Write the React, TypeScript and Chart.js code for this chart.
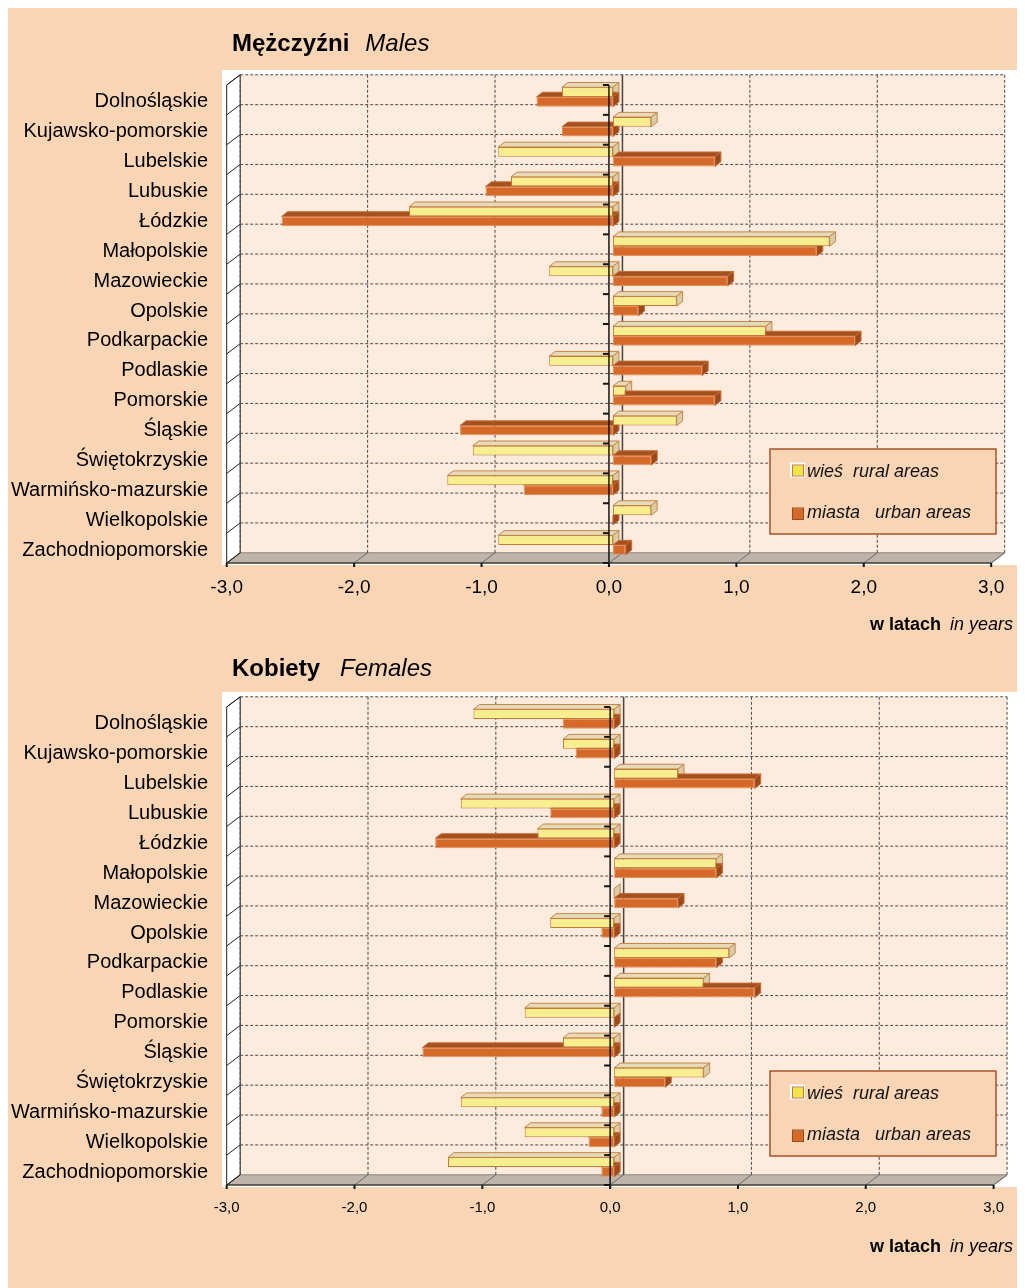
import React, { useEffect, useRef } from 'react';
import { Chart, registerables } from 'chart.js';

Chart.register(...registerables);

// ---------- data ----------
const regions = [
  'Dolnośląskie',
  'Kujawsko-pomorskie',
  'Lubelskie',
  'Lubuskie',
  'Łódzkie',
  'Małopolskie',
  'Mazowieckie',
  'Opolskie',
  'Podkarpackie',
  'Podlaskie',
  'Pomorskie',
  'Śląskie',
  'Świętokrzyskie',
  'Warmińsko-mazurskie',
  'Wielkopolskie',
  'Zachodniopomorskie',
];

const malesRural = [-0.4, 0.3, -0.9, -0.8, -1.6, 1.7, -0.5, 0.5, 1.2, -0.5, 0.1, 0.5, -1.1, -1.3, 0.3, -0.9];
const malesUrban = [-0.6, -0.4, 0.8, -1.0, -2.6, 1.6, 0.9, 0.2, 1.9, 0.7, 0.8, -1.2, 0.3, -0.7, 0.0, 0.1];

const femalesRural = [-1.1, -0.4, 0.5, -1.2, -0.6, 0.8, 0.0, -0.5, 0.9, 0.7, -0.7, -0.4, 0.7, -1.2, -0.7, -1.3];
const femalesUrban = [-0.4, -0.3, 1.1, -0.5, -1.4, 0.8, 0.5, -0.1, 0.8, 1.1, 0.0, -1.5, 0.4, -0.1, -0.2, -0.1];

const xTickValues = [-3, -2, -1, 0, 1, 2, 3];
const xTickLabels = ['-3,0', '-2,0', '-1,0', '0,0', '1,0', '2,0', '3,0'];

const seriesLabels = ['wieś  rural areas', 'miasta   urban areas'];
const maleTitle = ['Mężczyźni', 'Males'];
const femaleTitle = ['Kobiety', 'Females'];
const unitLabel = ['w latach', 'in years'];

// ---------- styles ----------
const FONT = '"Liberation Sans", Arial, sans-serif';
const PAGE_BG = '#F8D5B5';
const WALL = '#FDEBDD';
const FLOOR = '#BEB4AA';
const GRID = '#4a4a4a';
const AXIS = '#151515';

const AREA_LEFT = 222.7;
const AREA_RIGHT = 990.7;
const AREA_TOP = 74;
const AREA_BOTTOM = 552;
const CANVAS_W = 1017;

const BACK = { dx: 9.5, dy: -7.2 };
const FRONT = { dx: -4, dy: 3 };
const BAR_DEPTH = { dx: 6, dy: -4.7 };

const FACE_STYLES = [
  { front: '#F7EE8F', border: '#C47A35', top: '#E5DBB8', side: '#D8CDA6', edge: '#C8844A' },
  { front: '#D4692A', border: '#E5935C', top: '#A4511F', side: '#9A4A1B', edge: '#C86A35' },
];

function poly(ctx: CanvasRenderingContext2D, pts: number[][], fill?: string, stroke?: string, lw = 1) {
  ctx.beginPath();
  ctx.moveTo(pts[0][0], pts[0][1]);
  for (let i = 1; i < pts.length; i++) ctx.lineTo(pts[i][0], pts[i][1]);
  ctx.closePath();
  if (fill) {
    ctx.fillStyle = fill;
    ctx.fill();
  }
  if (stroke) {
    ctx.strokeStyle = stroke;
    ctx.lineWidth = lw;
    ctx.stroke();
  }
}

function line(ctx: CanvasRenderingContext2D, x1: number, y1: number, x2: number, y2: number, color: string, lw = 1, dash: number[] = []) {
  ctx.beginPath();
  ctx.setLineDash(dash);
  ctx.moveTo(x1, y1);
  ctx.lineTo(x2, y2);
  ctx.strokeStyle = color;
  ctx.lineWidth = lw;
  ctx.stroke();
  ctx.setLineDash([]);
}

type PanelProps = {
  top: number;
  height: number;
  title: string[];
  rural: number[];
  urban: number[];
  tickSize: number;
  tickPad: number;
  titleBaseline: number;
  titleGap: number;
};

function makePlugin(p: PanelProps) {
  return {
    id: 'threeD',
    beforeDraw(chart: any) {
      const ctx: CanvasRenderingContext2D = chart.ctx;
      const xs = chart.scales.x;
      const { top, bottom } = chart.chartArea;
      const X = (v: number) => xs.getPixelForValue(v);
      const n = chart.data.labels.length;
      const step = (bottom - top) / n;
      ctx.save();
      // white panel
      ctx.fillStyle = '#FFFFFF';
      ctx.fillRect(214, 62, 795, 495);

      const xmin = xTickValues[0];
      const xmax = xTickValues[xTickValues.length - 1];
      // back wall
      ctx.fillStyle = WALL;
      ctx.fillRect(X(xmin) + BACK.dx, top + BACK.dy, X(xmax) - X(xmin), bottom - top);

      // floor
      poly(
        ctx,
        [
          [X(xmin) + FRONT.dx, bottom + FRONT.dy],
          [X(xmax) + FRONT.dx, bottom + FRONT.dy],
          [X(xmax) + BACK.dx, bottom + BACK.dy],
          [X(xmin) + BACK.dx, bottom + BACK.dy],
        ],
        FLOOR,
        '#8a8580',
        1
      );
      // floor lines
      xTickValues.forEach((v) => {
        line(ctx, X(v) + FRONT.dx, bottom + FRONT.dy, X(v) + BACK.dx, bottom + BACK.dy, '#6e6a66', 1);
      });

      // left wall
      poly(
        ctx,
        [
          [X(xmin) + FRONT.dx, top + FRONT.dy],
          [X(xmin) + BACK.dx, top + BACK.dy],
          [X(xmin) + BACK.dx, bottom + BACK.dy],
          [X(xmin) + FRONT.dx, bottom + FRONT.dy],
        ],
        '#FFFFFF',
        '#222222',
        1
      );
      for (let i = 0; i <= n; i++) {
        const yb = top + i * step;
        line(ctx, X(xmin) + FRONT.dx, yb + FRONT.dy, X(xmin) + BACK.dx, yb + BACK.dy, '#222222', 1);
      }

      // horizontal dashed grid on back wall
      for (let i = 0; i < n; i++) {
        const yb = top + i * step + BACK.dy;
        line(ctx, X(xmin) + BACK.dx, yb, X(xmax) + BACK.dx, yb, GRID, 1, [3, 2]);
      }
      // vertical dashed grid
      xTickValues.forEach((v) => {
        if (v === 0) return;
        line(ctx, X(v) + BACK.dx, top + BACK.dy, X(v) + BACK.dx, bottom + BACK.dy, GRID, 1, [3, 2]);
      });
      // zero line on back wall
      line(ctx, X(0) + BACK.dx, top + BACK.dy, X(0) + BACK.dx, bottom + BACK.dy, '#444444', 1.5);
      ctx.restore();
    },
    beforeDatasetsDraw(chart: any) {
      const ctx: CanvasRenderingContext2D = chart.ctx;
      ctx.save();
      chart.data.datasets.forEach((_ds: any, di: number) => {
        const meta = chart.getDatasetMeta(di);
        const st = FACE_STYLES[di];
        meta.data.forEach((el: any) => {
          const { x, y, base, height } = el.getProps(['x', 'y', 'base', 'height'], true);
          const xl = Math.min(x, base);
          const xr = Math.max(x, base);
          const t = y - height / 2;
          const b = y + height / 2;
          const dx = BAR_DEPTH.dx;
          const dy = BAR_DEPTH.dy;
          if (xr - xl > 0.5) {
            poly(ctx, [[xl, t], [xr, t], [xr + dx, t + dy], [xl + dx, t + dy]], st.top, st.edge, 1);
          }
          poly(ctx, [[xr, t], [xr, b], [xr + dx, b + dy], [xr + dx, t + dy]], st.side, st.edge, 1);
        });
      });
      ctx.restore();
    },
    afterDatasetsDraw(chart: any) {
      const ctx: CanvasRenderingContext2D = chart.ctx;
      const xs = chart.scales.x;
      const { top, bottom } = chart.chartArea;
      const X = (v: number) => xs.getPixelForValue(v);
      const n = chart.data.labels.length;
      const step = (bottom - top) / n;
      const xmin = xTickValues[0];
      const xmax = xTickValues[xTickValues.length - 1];
      ctx.save();
      // front vertical axis at zero
      const xf0 = X(0) + FRONT.dx;
      line(ctx, xf0, top + FRONT.dy, xf0, bottom + FRONT.dy + 4, AXIS, 1.5);
      for (let i = 0; i <= n; i++) {
        const yb = top + i * step + FRONT.dy;
        line(ctx, xf0 - 6, yb, xf0, yb, AXIS, 2);
      }
      // front horizontal axis
      line(ctx, X(xmin) + FRONT.dx, bottom + FRONT.dy, X(xmax) + FRONT.dx, bottom + FRONT.dy, AXIS, 1);
      xTickValues.forEach((v) => {
        line(ctx, X(v) + FRONT.dx, bottom + FRONT.dy, X(v) + FRONT.dx, bottom + FRONT.dy + 4, AXIS, 2);
      });

      // legend
      const lx = 762;
      const ly = 441;
      ctx.fillStyle = PAGE_BG;
      ctx.fillRect(lx, ly, 226, 85);
      ctx.strokeStyle = '#A5532B';
      ctx.lineWidth = 1.5;
      ctx.strokeRect(lx, ly, 226, 85);
      // marker 1
      ctx.fillStyle = '#FFFFFF';
      ctx.fillRect(782, 454.5, 15, 15);
      ctx.fillStyle = '#F2E448';
      ctx.fillRect(785, 457.5, 10, 10);
      ctx.strokeStyle = '#C47A35';
      ctx.lineWidth = 1;
      ctx.strokeRect(784.5, 457, 11, 11);
      // marker 2
      ctx.fillStyle = '#D4692A';
      ctx.fillRect(785, 500.5, 10, 10.5);
      ctx.strokeStyle = '#9A4A1B';
      ctx.strokeRect(784.5, 500, 11, 11.5);
      ctx.fillStyle = '#111111';
      ctx.font = `italic 18px ${FONT}`;
      ctx.textAlign = 'left';
      ctx.textBaseline = 'alphabetic';
      ctx.fillText(chart.data.datasets[0].label, 799, 468.5);
      ctx.fillText(chart.data.datasets[1].label, 799, 510);

      // title
      ctx.fillStyle = '#000000';
      ctx.font = `bold 24px ${FONT}`;
      ctx.fillText(p.title[0], 224, p.titleBaseline);
      const w1 = ctx.measureText(p.title[0]).width;
      ctx.font = `italic 24px ${FONT}`;
      ctx.fillText(p.title[1], 224 + w1 + p.titleGap, p.titleBaseline);

      // unit label
      ctx.font = `italic 18px ${FONT}`;
      const w2 = ctx.measureText(unitLabel[1]).width;
      ctx.textAlign = 'right';
      ctx.fillText(unitLabel[1], 1005, 622);
      ctx.font = `bold 18px ${FONT}`;
      ctx.fillText(unitLabel[0], 1005 - w2 - 9, 622);
      ctx.restore();
    },
  };
}

function PanelChart(p: PanelProps) {
  const ref = useRef<HTMLCanvasElement>(null);
  useEffect(() => {
    if (!ref.current) return;
    const chart = new Chart(ref.current, {
      type: 'bar',
      data: {
        labels: regions,
        datasets: [
          {
            label: seriesLabels[0],
            data: p.rural,
            backgroundColor: FACE_STYLES[0].front,
            borderColor: FACE_STYLES[0].border,
            borderWidth: 1,
            borderSkipped: false,
            categoryPercentage: 0.65,
            barPercentage: 1,
          },
          {
            label: seriesLabels[1],
            data: p.urban,
            backgroundColor: FACE_STYLES[1].front,
            borderColor: FACE_STYLES[1].border,
            borderWidth: 1,
            borderSkipped: false,
            categoryPercentage: 0.65,
            barPercentage: 1,
          },
        ],
      },
      options: {
        indexAxis: 'y',
        responsive: false,
        animation: false,
        devicePixelRatio: 1,
        layout: {
          padding: { top: AREA_TOP, left: 0, right: CANVAS_W - AREA_RIGHT, bottom: 0 },
        },
        plugins: {
          legend: { display: false },
          title: { display: false },
          tooltip: { enabled: false },
        },
        scales: {
          x: {
            type: 'linear',
            min: xTickValues[0],
            max: xTickValues[xTickValues.length - 1],
            grid: { display: false, drawTicks: false, tickLength: 0 },
            border: { display: false },
            ticks: {
              stepSize: 1,
              autoSkip: false,
              maxRotation: 0,
              padding: p.tickPad,
              labelOffset: FRONT.dx,
              color: '#000000',
              font: { family: FONT, size: p.tickSize },
              callback: (_v: any, i: number) => xTickLabels[i],
            },
            afterFit: (s: any) => {
              s.height = p.height - AREA_BOTTOM;
            },
          },
          y: {
            type: 'category',
            grid: { display: false, drawTicks: false, tickLength: 0 },
            border: { display: false },
            ticks: {
              autoSkip: false,
              padding: AREA_LEFT - 200,
              labelOffset: 5,
              color: '#000000',
              font: { family: FONT, size: 20 },
            },
            afterFit: (s: any) => {
              s.width = AREA_LEFT;
            },
          },
        },
      } as any,
      plugins: [makePlugin(p)],
    });
    return () => chart.destroy();
  }, []);
  return (
    <canvas
      ref={ref}
      width={CANVAS_W}
      height={p.height}
      style={{ position: 'absolute', left: 0, top: p.top, width: CANVAS_W, height: p.height }}
    />
  );
}

export default function App() {
  useEffect(() => {
    document.documentElement.style.overflow = 'hidden';
  }, []);
  return (
    <div style={{ position: 'relative', width: CANVAS_W, height: 1280, background: PAGE_BG }}>
      <PanelChart
        top={0}
        height={636}
        title={maleTitle}
        rural={malesRural}
        urban={malesUrban}
        tickSize={19}
        tickPad={16.6}
        titleBaseline={43}
        titleGap={16}
      />
      <PanelChart
        top={622}
        height={658}
        title={femaleTitle}
        rural={femalesRural}
        urban={femalesUrban}
        tickSize={15}
        tickPad={17}
        titleBaseline={46}
        titleGap={20}
      />
    </div>
  );
}
